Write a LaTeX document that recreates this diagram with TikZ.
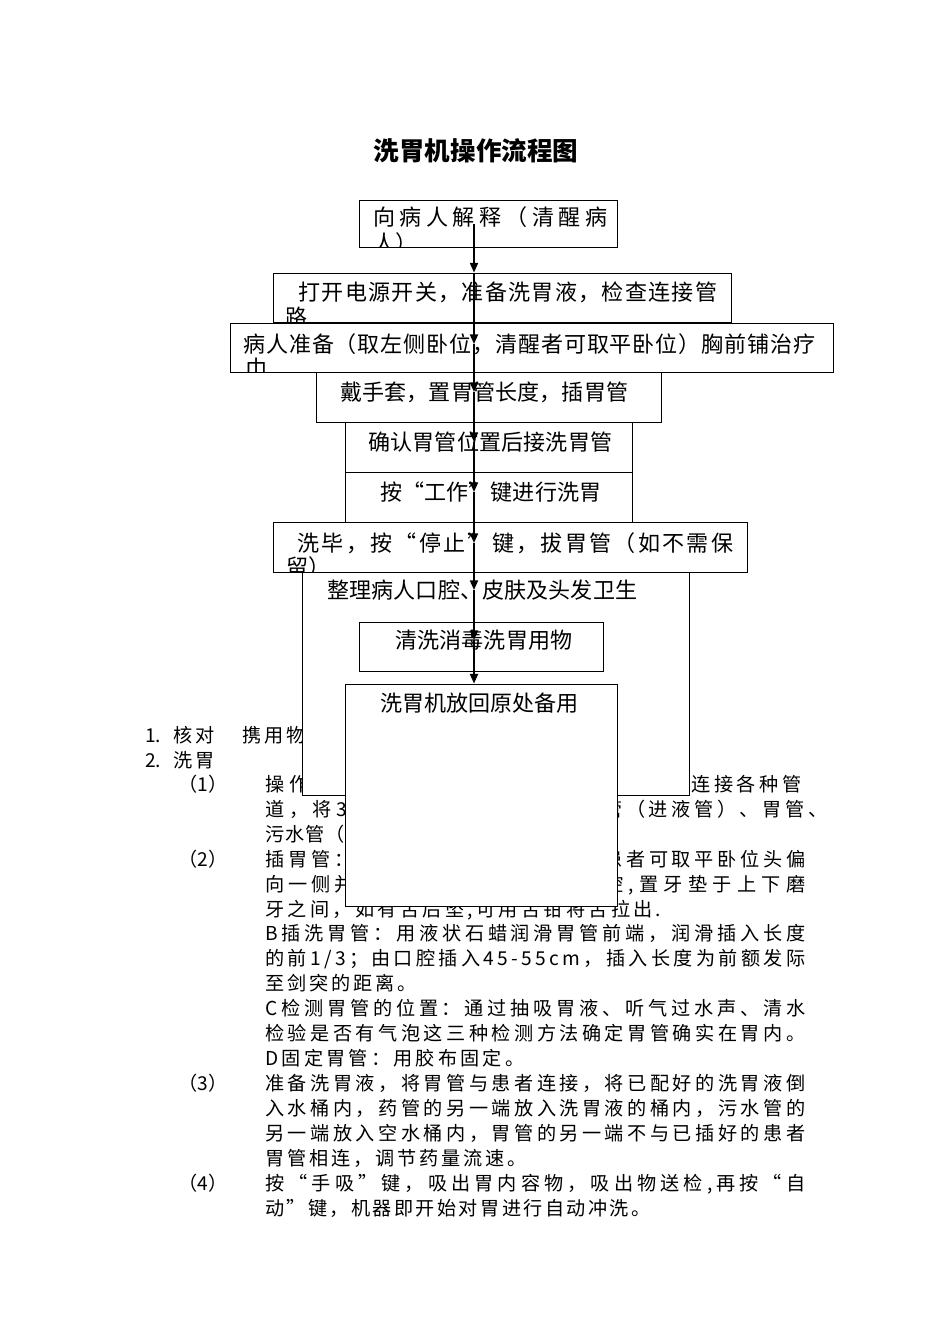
\documentclass[tikz,border=0pt]{standalone}
\usepackage{fontspec}
\setmainfont{Noto Sans CJK SC}
\usetikzlibrary{arrows.meta,fit}

% one pixel of the page
\newdimen\pxu \pxu=0.6263pt
% spread the characters of #1 over #2 pixels
\def\jlloop#1{\ifx#1\relax\else\hfil#1\expandafter\jlloop\fi}
\def\jlfirst#1{#1\jlloop}
\newcommand\spreadto[2]{\makebox[#2\pxu][s]{\jlfirst#1\relax}}

\tikzset{
  box/.style={draw, fill=white, line width=0.6pt, inner sep=0pt},
  btxt/.style={inner sep=0pt, anchor=west, font=\fontsize{13.8pt}{16pt}\selectfont,
    text height=12.1pt, text depth=1.7pt},
  ltxt/.style={inner sep=0pt, anchor=west, font=\fontsize{12pt}{14pt}\selectfont,
    text height=10.6pt, text depth=1.4pt},
  ttl/.style={inner sep=0pt, font=\fontsize{16pt}{18pt}\selectfont\bfseries,
    text height=14.1pt, text depth=1.9pt},
  arr/.style={line width=1.1pt, -{Triangle[length=6pt,width=5pt]}},
}

\begin{document}
\begin{tikzpicture}[x=0.6263pt, y=-0.6263pt]
  \useasboundingbox (0,0) rectangle (950,1344);

  \node[ttl] (title) at (476,151) {洗胃机操作流程图};

  % list under the chart
  \node[ltxt] (n1) at (145,735) {1.};
  \node[ltxt] (l1a) at (173,735) {\spreadto{核对}{41}};
  \node[ltxt] (l1b) at (242,735) {\spreadto{携用物}{63}};
  \node[ltxt] (n2) at (145,760) {2.};
  \node[ltxt] (l2) at (173,760) {\spreadto{洗胃}{41}};
  \node[ltxt] (s1) at (178,784) {（1）};
  \node[ltxt] (l3a) at (265,784) {\spreadto{操作}{43}};
  \node[ltxt] (l3b) at (691,784) {\spreadto{连接各种管}{110}};
  \node[ltxt] (l4a) at (265,809) {\spreadto{道，将3}{82}};
  \node[ltxt] (l4b) at (603,809) {\spreadto{管（进液管）、胃管、}{224}};
  \node[ltxt] (l5) at (265,834) {\spreadto{污水管（}{79}};
  \node[ltxt] (s2) at (178,859) {（2）};
  \node[ltxt] (l6a) at (265,859) {\spreadto{插胃管：}{88}};
  \node[ltxt] (l6b) at (603,859) {\spreadto{患者可取平卧位头偏}{202}};
  \node[ltxt] (l7a) at (265,884) {\spreadto{向一侧并}{88}};
  \node[ltxt] (l7b) at (604,884) {\spreadto{腔,置牙垫于上下磨}{201}};
  \node[ltxt] (l8) at (265,909) {\spreadto{牙之间，如有舌后坠,可用舌钳将舌拉出.}{396}};
  \node[ltxt] (l9) at (265,933) {\spreadto{B插洗胃管：用液状石蜡润滑胃管前端，润滑插入长度}{540}};
  \node[ltxt] (l10) at (265,958) {\spreadto{的前1/3；由口腔插入45-55cm，插入长度为前额发际}{540}};
  \node[ltxt] (l11) at (265,983) {\spreadto{至剑突的距离。}{151}};
  \node[ltxt] (l12) at (265,1008) {\spreadto{C检测胃管的位置：通过抽吸胃液、听气过水声、清水}{540}};
  \node[ltxt] (l13) at (265,1033) {\spreadto{检验是否有气泡这三种检测方法确定胃管确实在胃内。}{540}};
  \node[ltxt] (l14) at (265,1058) {\spreadto{D固定胃管：用胶布固定。}{259}};
  \node[ltxt] (s3) at (178,1083) {（3）};
  \node[ltxt] (l15) at (265,1083) {\spreadto{准备洗胃液，将胃管与患者连接，将已配好的洗胃液倒}{540}};
  \node[ltxt] (l16) at (265,1108) {\spreadto{入水桶内，药管的另一端放入洗胃液的桶内，污水管的}{540}};
  \node[ltxt] (l17) at (265,1133) {\spreadto{另一端放入空水桶内，胃管的另一端不与已插好的患者}{540}};
  \node[ltxt] (l18) at (265,1158) {\spreadto{胃管相连，调节药量流速。}{261}};
  \node[ltxt] (s4) at (178,1183) {（4）};
  \node[ltxt] (l19) at (265,1183) {\spreadto{按“手吸”键，吸出胃内容物，吸出物送检,再按“自}{540}};
  \node[ltxt] (l20) at (265,1208) {\spreadto{动"键，机器即开始对胃进行自动冲洗。}{385}};

  % chart boxes
  \node[box, fit={(359,200) (617,247)}] (b1) {};
  \node[btxt] (t1a) at (373,217) {\spreadto{向病人解释（清醒病}{234}};
  \begin{scope}
    \clip (b1.south west) rectangle (b1.north east);
    \node[btxt] (t1b) at (373,243) {人）};
  \end{scope}

  \node[box, fit={(273,273) (731,322)}] (b2) {};
  \node[btxt] (t2a) at (298,292) {\spreadto{打开电源开关，准备洗胃液，检查连接管}{419}};
  \begin{scope}
    \clip (b2.south west) rectangle (b2.north east);
    \node[btxt] (t2b) at (285,317) {路};
  \end{scope}

  \node[box, fit={(230,323) (833,372)}] (b3) {};
  \node[btxt] (t3a) at (243,344) {\spreadto{病人准备（取左侧卧位，清醒者可取平卧位）胸前铺治疗}{572}};
  \begin{scope}
    \clip (b3.south west) rectangle (b3.north east);
    \node[btxt] (t3b) at (245,368) {巾};
  \end{scope}

  \node[box, fit={(316,372) (661,422)}] (b4) {};
  \node[btxt] (t4) at (340,392) {\spreadto{戴手套，置胃管长度，插胃管}{288}};

  \node[box, fit={(345,422) (632,472)}] (b5) {};
  \node[btxt] (t5) at (368,442) {\spreadto{确认胃管位置后接洗胃管}{244}};

  \node[box, fit={(345,472) (632,522)}] (b6) {};
  \node[btxt] (t6) at (380,492) {\spreadto{按“工作”键进行洗胃}{221}};

  \node[box, fit={(273,522) (747,572)}] (b7) {};
  \node[btxt] (t7a) at (297,543) {\spreadto{洗毕，按“停止”键，拔胃管（如不需保}{436}};
  \begin{scope}
    \clip (b7.south west) rectangle (b7.north east);
    \node[btxt] (t7b) at (286,567) {留）};
  \end{scope}

  \node[box, fit={(302,572) (689,795)}] (b8) {};
  \node[btxt] (t8) at (327,590) {\spreadto{整理病人口腔、皮肤及头发卫生}{310}};

  \node[box, fit={(359,622) (603,671)}] (b9) {};
  \node[btxt] (t9) at (395,640) {\spreadto{清洗消毒洗胃用物}{177}};

  \node[box, fit={(345,684) (617,906)}] (b10) {};
  \node[btxt] (t10) at (380,703) {\spreadto{洗胃机放回原处备用}{198}};

  % the arrows down the middle
  \coordinate (p0) at (474,224);
  \coordinate (p1) at (b2.north -| p0);
  \coordinate (p2) at (t3a.west -| p0);
  \coordinate (p3) at (t4.west -| p0);
  \coordinate (p4) at (t5.west -| p0);
  \coordinate (p5) at (t6.west -| p0);
  \coordinate (p6) at (t7a.west -| p0);
  \coordinate (p7) at (t8.west -| p0);
  \coordinate (p8) at (t9.west -| p0);
  \coordinate (p9) at (b10.north -| p0);
  \foreach \a/\b in {p0/p1,p1/p2,p2/p3,p3/p4,p4/p5,p5/p6,p6/p7,p7/p8,p8/p9}
    \draw[arr] (\a) -- (\b);
\end{tikzpicture}
\end{document}
